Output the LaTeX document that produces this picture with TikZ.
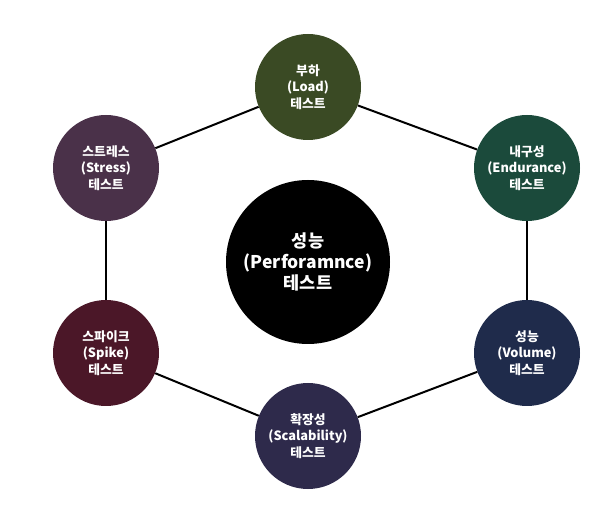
\documentclass[tikz,border=0pt]{standalone}
\usepackage{fontspec}
\setmainfont{Noto Sans CJK KR}
\usepackage{tikz}
\usetikzlibrary{positioning}

\definecolor{loadc}{HTML}{3A4A24}
\definecolor{endurc}{HTML}{1B4A3B}
\definecolor{volc}{HTML}{1F2B4B}
\definecolor{scalc}{HTML}{2E2A4B}
\definecolor{spikec}{HTML}{4B1728}
\definecolor{stressc}{HTML}{4A3149}

\begin{document}
\begin{tikzpicture}[
    x=1pt, y=-1pt,
    every node/.style={
        circle,
        text=white,
        font=\bfseries\fontsize{12.8}{16.5}\selectfont,
        align=center,
        inner sep=0pt,
        minimum size=106pt
    },
    edge/.style={line width=2pt, black}
]
\useasboundingbox (0,0) rectangle (616,526);

\node (perf) [fill=black, minimum size=164pt,
    font=\bfseries\fontsize{17.5}{21}\selectfont] at (308,262) {성능\\(Perforamnce)\\테스트};

\node (load) [fill=loadc] at (308,87) {부하\\(Load)\\테스트};
\node (endur) [fill=endurc] at (527,168) {내구성\\(Endurance)\\테스트};
\node (vol) [fill=volc] at (527,353) {성능\\(Volume)\\테스트};
\node (scal) [fill=scalc] at (308,436) {확장성\\(Scalability)\\테스트};
\node (spike) [fill=spikec] at (106,353) {스파이크\\(Spike)\\테스트};
\node (stress) [fill=stressc] at (106,168) {스트레스\\(Stress)\\테스트};

\draw[edge] (load) -- (endur);
\draw[edge] (endur) -- (vol);
\draw[edge] (vol) -- (scal);
\draw[edge] (scal) -- (spike);
\draw[edge] (spike) -- (stress);
\draw[edge] (stress) -- (load);

\end{tikzpicture}
\end{document}
